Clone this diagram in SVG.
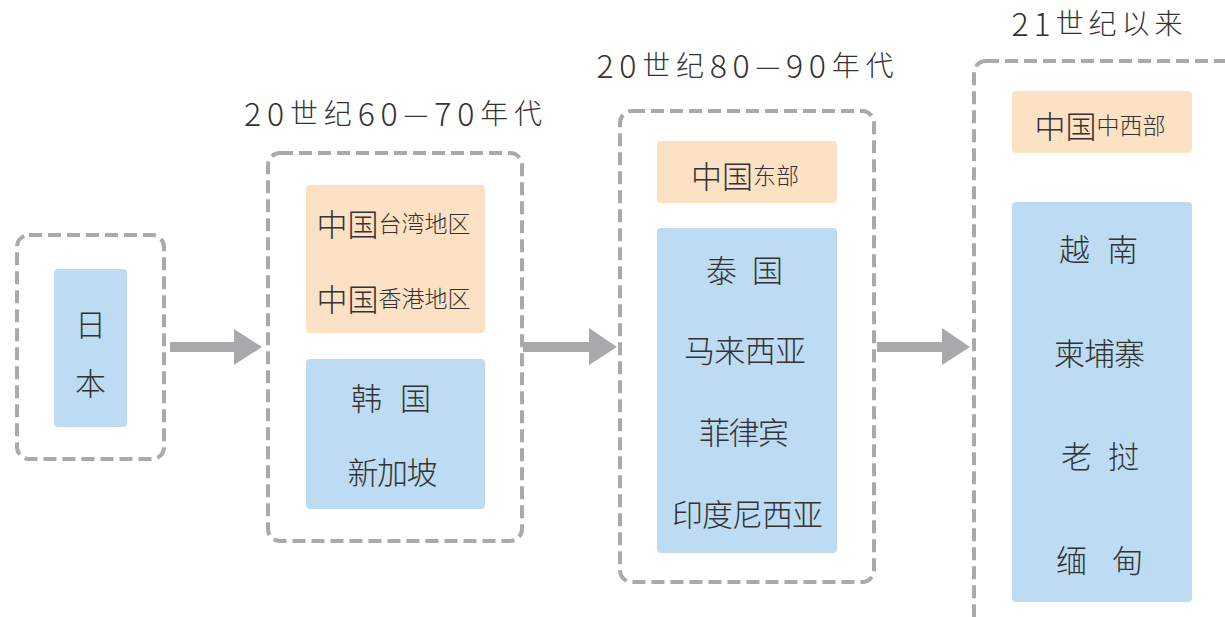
<svg xmlns="http://www.w3.org/2000/svg" width="1225" height="617" viewBox="0 0 1225 617">
<style>
.frame{fill:none;stroke:#aaaaaa;stroke-width:4;stroke-dasharray:13 6}
.or{fill:#fde1c4}
.bl{fill:#bddcf3}
.t{font-family:"Noto Sans CJK SC","Liberation Sans",sans-serif;fill:#333333;text-anchor:middle;dominant-baseline:central;font-weight:300}
.n{font-size:31px}
.big{font-size:31px}
.sm{font-size:23px}
.title{font-size:28px}
.dg{font-size:32px}
.arrow{fill:#a9a9ab}
</style>
<rect width="1225" height="617" fill="#ffffff"/>
<g id="title1"><text class="t title" x="393" y="112" textLength="298" lengthAdjust="spacing"><tspan class="dg">20</tspan>世纪<tspan class="dg">60</tspan>—<tspan class="dg">70</tspan>年代</text></g>
<g id="title2"><text class="t title" x="745" y="64" textLength="297" lengthAdjust="spacing"><tspan class="dg">20</tspan>世纪<tspan class="dg">80</tspan>—<tspan class="dg">90</tspan>年代</text></g>
<g id="title3"><text class="t title" x="1097" y="22" textLength="171" lengthAdjust="spacing"><tspan class="dg">21</tspan>世纪以来</text></g>
<g id="node-japan">
<rect class="frame" x="17" y="235" width="147" height="224" rx="12"/>
<rect class="bl" x="54" y="269" width="73" height="158" rx="4"/>
<text class="t n" x="90.5" y="322">日</text>
<text class="t n" x="90.5" y="381">本</text>
</g>
<g id="node-6070">
<rect class="frame" x="268" y="153" width="254" height="388" rx="12"/>
<rect class="or" x="306" y="185" width="179" height="148" rx="4"/>
<rect class="bl" x="306" y="359" width="179" height="150" rx="4"/>
<text class="t" x="393.5" y="222"><tspan class="big">中国</tspan><tspan class="sm">台湾地区</tspan></text>
<text class="t" x="393.5" y="297"><tspan class="big">中国</tspan><tspan class="sm">香港地区</tspan></text>
<text class="t n" x="391" y="396" textLength="80" lengthAdjust="spacing">韩 国</text>
<text class="t n" x="392.5" y="470" textLength="90" lengthAdjust="spacing">新加坡</text>
</g>
<g id="node-8090">
<rect class="frame" x="620" y="111" width="254" height="471" rx="12"/>
<rect class="or" x="657" y="141" width="180" height="62" rx="4"/>
<rect class="bl" x="657" y="228" width="180" height="325" rx="4"/>
<text class="t" x="745" y="174"><tspan class="big">中国</tspan><tspan class="sm">东部</tspan></text>
<text class="t n" x="744.5" y="268" textLength="77" lengthAdjust="spacing">泰 国</text>
<text class="t n" x="745" y="348" textLength="122" lengthAdjust="spacing">马来西亚</text>
<text class="t n" x="744" y="430" textLength="90" lengthAdjust="spacing">菲律宾</text>
<text class="t n" x="747.5" y="512" textLength="151" lengthAdjust="spacing">印度尼西亚</text>
</g>
<g id="node-21">
<rect class="frame" x="974" y="61" width="262" height="600" rx="12"/>
<rect class="or" x="1012" y="91" width="180" height="62" rx="4"/>
<rect class="bl" x="1012" y="202" width="180" height="400" rx="4"/>
<text class="t" x="1100" y="124"><tspan class="big">中国</tspan><tspan class="sm">中西部</tspan></text>
<text class="t n" x="1098.5" y="247" textLength="79" lengthAdjust="spacing">越 南</text>
<text class="t n" x="1099.5" y="351" textLength="91" lengthAdjust="spacing">柬埔寨</text>
<text class="t n" x="1100" y="454" textLength="78" lengthAdjust="spacing">老 挝</text>
<text class="t n" x="1099.5" y="558" textLength="87" lengthAdjust="spacing">缅 甸</text>
</g>
<g id="connectors">
<path class="arrow" d="M170 342 H234 V329 L262 347 L234 365 V352 H170 Z"/>
<path class="arrow" d="M523 342 H589 V328 L617 347 L589 365 V352 H523 Z"/>
<path class="arrow" d="M877 342 H942 V328 L970 347 L942 365 V352 H877 Z"/>
</g>
</svg>
